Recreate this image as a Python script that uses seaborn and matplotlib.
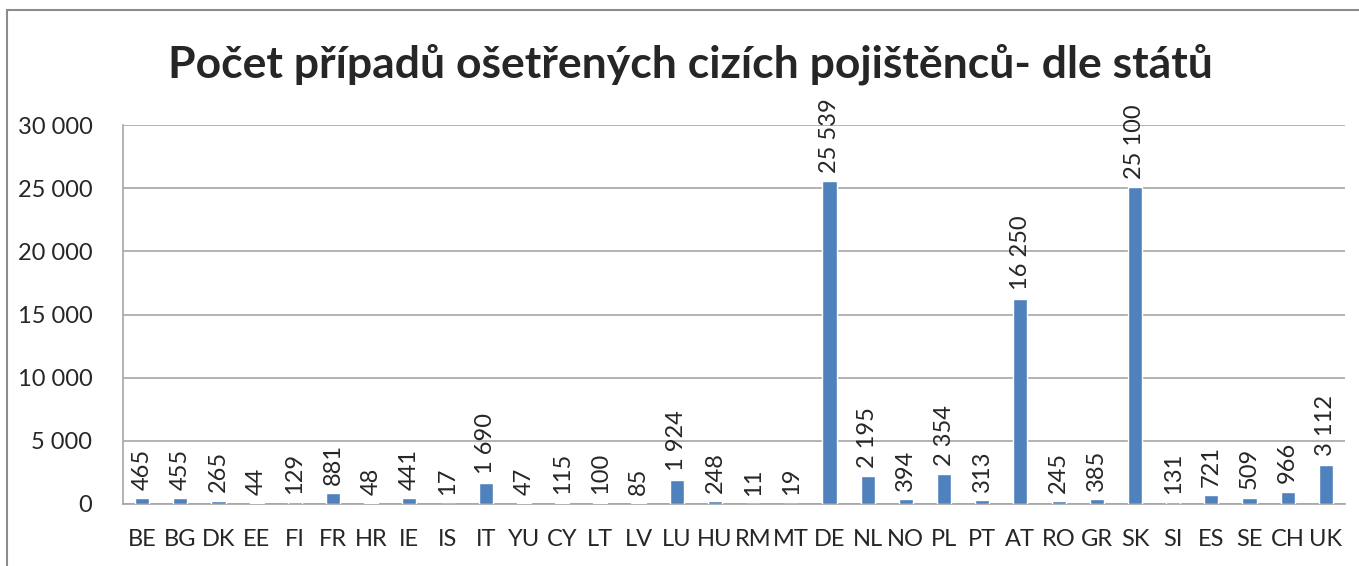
import matplotlib
matplotlib.use("Agg")
import matplotlib.pyplot as plt
import seaborn as sns
import pandas as pd
from matplotlib.lines import Line2D

# data
staty = ["BE", "BG", "DK", "EE", "FI", "FR", "HR", "IE", "IS", "IT", "YU", "CY",
         "LT", "LV", "LU", "HU", "RM", "MT", "DE", "NL", "NO", "PL", "PT", "AT",
         "RO", "GR", "SK", "SI", "ES", "SE", "CH", "UK"]
pripady = [465, 455, 265, 44, 129, 881, 48, 441, 17, 1690, 47, 115,
           100, 85, 1924, 248, 11, 19, 25539, 2195, 394, 2354, 313, 16250,
           245, 385, 25100, 131, 721, 509, 966, 3112]
y_ticks = [0, 5000, 10000, 15000, 20000, 25000, 30000]

df = pd.DataFrame({"stat": staty, "pocet": pripady})

sns.set_style("white")
plt.rcParams["font.family"] = ["Lato", "DejaVu Sans"]

def fmt(v):
    return f"{v:,}".replace(",", " ")

fig = plt.figure(figsize=(13.59, 5.66), dpi=100)
ax = fig.add_axes([123 / 1359, 1 - 504 / 566, (1345 - 123) / 1359, (504 - 125) / 566])

sns.barplot(data=df, x="stat", y="pocet", color="#4F81BD", width=0.37,
            saturation=1, ax=ax, zorder=3)

ax.set_ylim(0, 30000)
ax.set_xlim(-0.5, len(staty) - 0.5)
ax.set_yticks(y_ticks)
ax.set_yticklabels([fmt(t) for t in y_ticks], fontsize=17)
ax.tick_params(axis="y", length=0, pad=22)
ax.tick_params(axis="x", length=0, pad=18, labelsize=17)
ax.yaxis.grid(True, color="#A6A6A6", linewidth=1.2)
ax.set_axisbelow(True)
ax.set_xlabel("")
ax.set_ylabel("")

for s in ["top", "right"]:
    ax.spines[s].set_visible(False)
for s in ["left", "bottom"]:
    ax.spines[s].set_color("#A6A6A6")
    ax.spines[s].set_linewidth(1.2)

ax.bar_label(ax.containers[0], labels=[fmt(v) for v in pripady],
             rotation=90, padding=6, fontsize=17, clip_on=False)

fig.text(0.508, 1 - 64 / 566, "Počet případů ošetřených cizích pojištěnců- dle států",
         ha="center", va="center", fontsize=32, fontweight="bold")

# outer chart frame
fig.add_artist(Line2D([7 / 1359, 7 / 1359], [0, 1 - 10 / 566], color="#8C8C8C", linewidth=1.5))
fig.add_artist(Line2D([7 / 1359, 1], [1 - 10 / 566, 1 - 10 / 566], color="#8C8C8C", linewidth=1.5))

fig.savefig("out.png", dpi=100)
